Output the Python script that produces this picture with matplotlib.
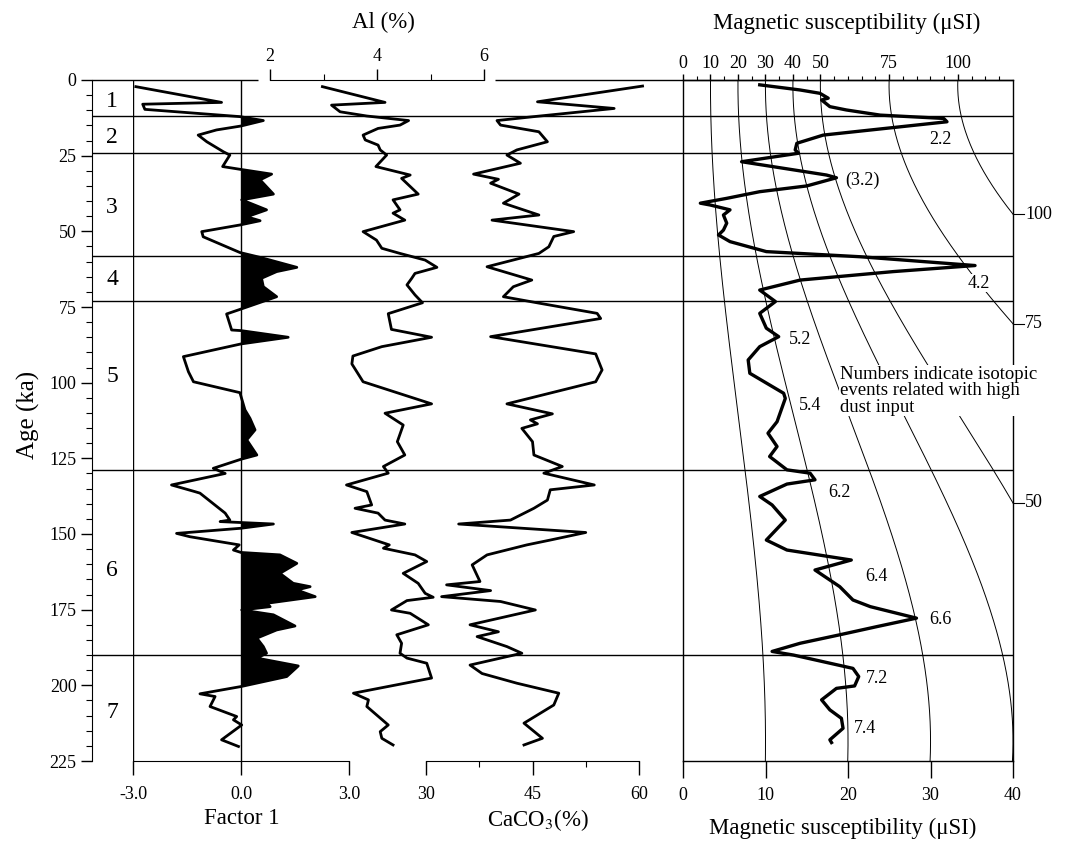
import numpy as np
import matplotlib
matplotlib.use('Agg')
import matplotlib.pyplot as plt

plt.rcParams['font.family'] = ['Liberation Serif', 'DejaVu Serif']
plt.rcParams['mathtext.fontset'] = 'stix'

# ---- data (age in ka) ----
fac_age = [2.2, 7.4, 8.0, 9.7, 12.1, 13.4, 15.2, 16.5, 18.2, 20.4,
           23.7, 24.8, 28.6, 29.5, 31.1, 33.0, 37.7, 39.6, 42.9, 45.2,
           46.5, 47.9, 50.1, 51.8, 57.0, 58.6, 61.9, 63.3, 65.5, 68.3,
           71.6, 75.8, 77.3, 82.6, 82.8, 85.0, 87.2, 91.4, 96.4, 99.7,
           103.3, 109.0, 111.8, 115.6, 118.9, 123.9, 125.3, 128.3, 130.0, 133.8,
           136.0, 136.5, 143.1, 145.4, 145.9, 146.7, 148.1, 149.8, 150.9, 153.6,
           155.3, 156.1, 156.9, 159.7, 163.0, 166.3, 167.4, 168.5, 170.7, 172.9,
           174.0, 175.1, 176.7, 180.4, 181.7, 184.4, 187.2, 189.4, 191.0, 193.6,
           197.1, 200.4, 202.8, 203.7, 207.0, 210.3, 211.4, 213.1, 218.0, 220.2]
fac_val = [-2.92, -0.54, -2.73, -2.67, -0.03, 0.62, 0.0, -0.68, -1.19, -0.95,
           -0.49, -0.31, -0.51, -0.03, 0.85, 0.53, 0.90, 0.02, 0.71, 0.16,
           0.53, -0.03, -1.09, -1.05, -0.03, 0.53, 1.55, 0.99, 0.57, 0.62,
           0.99, -0.03, -0.40, -0.26, 0.0, 1.31, 0.0, -1.60, -1.46, -1.32,
           -0.03, 0.11, 0.25, 0.39, 0.16, 0.44, 0.0, -0.77, -0.44, -1.93,
           -1.28, -1.14, -0.44, -0.31, -0.58, 0.90, 0.0, -1.79, -1.42, -0.05,
           -0.21, 0.0, 1.08, 1.55, 1.08, 1.45, 1.92, 1.55, 2.06, 0.71,
           0.81, 0.02, 0.90, 1.50, 0.99, 0.44, 0.62, 0.71, 0.44, 1.59,
           1.27, 0.0, -1.14, -0.72, -0.86, -0.12, -0.21, 0.02, -0.54, -0.07]

al_age = [2.2, 7.4, 8.3, 10.5, 11.9, 13.4, 14.9, 16.0, 18.2, 19.8,
          21.5, 23.1, 24.8, 28.6, 31.4, 32.5, 37.7, 39.6, 42.9, 44.0,
          46.3, 50.1, 52.9, 55.6, 57.3, 59.5, 61.9, 63.9, 65.5, 67.7,
          71.0, 73.6, 77.2, 82.4, 85.0, 88.1, 91.2, 93.8, 99.7, 107.0,
          110.1, 114.0, 119.5, 123.9, 127.7, 129.9, 133.8, 136.0, 140.4, 141.5,
          143.1, 145.4, 146.7, 149.5, 153.6, 154.7, 156.9, 159.1, 163.0, 166.3,
          169.6, 170.9, 172.0, 175.1, 176.2, 180.0, 183.3, 186.1, 189.4, 191.0,
          192.7, 197.6, 202.6, 204.8, 207.0, 213.1, 215.3, 217.5, 219.7]
al_val = [2.98, 4.15, 3.15, 3.31, 3.81, 4.59, 4.43, 4.02, 3.74, 3.78,
          4.02, 4.06, 4.18, 3.98, 4.62, 4.46, 4.77, 4.30, 4.43, 4.30,
          4.52, 3.74, 3.99, 4.09, 4.43, 4.90, 5.12, 4.71, 4.65, 4.56,
          4.71, 4.85, 4.21, 4.27, 5.02, 4.09, 3.55, 3.53, 3.74, 5.02,
          4.15, 4.49, 4.38, 4.52, 4.12, 4.21, 3.43, 3.81, 3.90, 3.59,
          4.02, 4.15, 4.52, 3.53, 4.23, 4.12, 4.71, 4.93, 4.49, 4.77,
          4.90, 5.05, 4.56, 4.27, 4.62, 4.96, 4.37, 4.46, 4.43, 4.56,
          4.93, 5.02, 3.56, 3.84, 3.81, 4.21, 4.06, 4.09, 4.30]

ca_age = [2.0, 7.2, 9.4, 12.1, 13.4, 14.9, 17.1, 20.4, 23.1, 24.8,
          27.5, 31.1, 32.8, 34.1, 37.7, 40.7, 44.6, 46.3, 50.1, 51.7,
          55.1, 57.3, 61.7, 66.1, 68.3, 71.6, 73.8, 77.1, 78.8, 84.8,
          90.5, 95.8, 99.7, 107.0, 110.3, 112.3, 113.6, 115.1, 119.5, 123.9,
          127.7, 129.9, 133.8, 135.4, 138.8, 141.5, 145.4, 146.7, 149.5, 152.0,
          153.6, 156.9, 160.2, 165.7, 166.8, 168.7, 170.7, 172.3, 175.1, 180.0,
          182.3, 183.9, 187.2, 189.4, 193.3, 196.1, 199.3, 202.6, 206.5, 212.5,
          217.5, 219.7]
ca_val = [60.5, 45.7, 56.5, 45.2, 40.0, 40.5, 45.9, 47.1, 42.8, 41.4,
          43.3, 36.7, 40.2, 39.1, 43.1, 40.9, 45.9, 39.3, 50.8, 48.0,
          47.3, 45.9, 38.6, 44.9, 42.3, 40.9, 46.1, 54.1, 54.6, 39.1,
          53.9, 54.8, 53.9, 41.4, 47.8, 44.7, 45.7, 43.5, 45.0, 45.2,
          49.2, 46.6, 53.7, 47.5, 47.1, 45.2, 41.9, 34.6, 52.5, 47.5,
          44.2, 38.6, 36.5, 37.6, 32.9, 39.1, 32.2, 40.5, 45.4, 36.2,
          40.2, 37.2, 41.4, 43.5, 36.2, 37.9, 42.8, 48.7, 48.0, 43.8,
          46.4, 43.8]

ms_age = [1.6, 3.3, 4.4, 6.0, 6.6, 8.8, 9.9, 11.6, 12.7, 13.8,
          18.2, 20.9, 23.1, 24.2, 27.0, 31.4, 32.3, 35.0, 36.9, 39.1,
          40.7, 41.3, 42.9, 44.6, 47.3, 49.6, 51.2, 53.4, 56.7, 58.4,
          61.3, 63.3, 66.1, 69.4, 73.2, 77.1, 82.0, 84.8, 88.1, 92.5,
          96.9, 103.5, 105.2, 112.9, 116.7, 121.1, 124.4, 128.8, 129.9, 132.1,
          133.5, 137.6, 140.4, 145.4, 152.0, 155.3, 158.6, 161.9, 164.1, 167.4,
          171.8, 174.0, 177.8, 180.6, 183.3, 186.1, 188.8, 190.0, 194.4, 197.1,
          200.2, 201.0, 204.8, 208.1, 210.9, 214.2, 218.0, 218.9]
ms_val = [9.3, 14.2, 16.6, 17.6, 16.8, 17.8, 19.8, 23.9, 31.6, 32.0,
          17.0, 13.8, 13.6, 14.0, 7.1, 17.4, 18.6, 15.0, 9.3, 5.3,
          2.1, 3.3, 5.7, 4.9, 5.3, 4.9, 4.3, 5.7, 10.1, 21.5,
          35.4, 25.5, 14.2, 9.3, 11.2, 9.3, 10.1, 11.6, 9.3, 7.9,
          8.1, 12.2, 12.4, 11.4, 10.3, 11.4, 10.5, 12.6, 15.4, 16.0,
          12.6, 9.3, 10.8, 12.4, 10.1, 12.6, 20.4, 16.0, 17.2, 19.0,
          20.6, 22.7, 28.3, 23.5, 19.0, 14.2, 10.8, 13.4, 20.6, 21.3,
          20.8, 18.6, 16.8, 17.8, 19.2, 19.4, 17.8, 18.0]

stage_bounds = [12, 24, 58, 73, 129, 190]
stage_names = ['1', '2', '3', '4', '5', '6', '7']
stage_name_age = [7, 19, 42, 66, 98, 162, 209]

event_names = ['2.2', '(3.2)', '4.2', '5.2', '5.4', '6.2', '6.4', '6.6', '7.2', '7.4']
event_x = [31.2, 21.7, 35.8, 14.2, 15.4, 19.0, 23.5, 31.2, 23.5, 22.1]
event_age = [19.8, 33.0, 67.1, 85.9, 107.4, 136.4, 164.2, 178.1, 197.9, 214.1]

# second (age dependent) susceptibility scale: px per unit along depth
warp_age = [0, 13, 44.5, 57, 79, 92.5, 130, 138.6, 175, 190, 225]
warp_px = [2.75, 2.8, 3.3, 3.6, 4.4, 4.77, 6.3, 6.6, 7.6, 8.0, 8.25]
warp_values = [10, 20, 30, 40, 50, 75, 100]
top_labels = [0, 10, 20, 30, 40, 50, 75, 100]

W, H = 1068, 843
fig = plt.figure(figsize=(W / 100, H / 100), dpi=100)


def axes_px(x0, x1, y0=80, y1=761):
    a = fig.add_axes([x0 / W, 1 - y1 / H, (x1 - x0) / W, (y1 - y0) / H])
    a.set_ylim(225, 0)
    a.patch.set_visible(False)
    for s in a.spines.values():
        s.set_visible(False)
    a.set_yticks([])
    return a


TICK = dict(labelsize=13, width=1, color='black')
LW = 2.0

# age axis + stage boundaries
ax = axes_px(92, 1013)
ax.set_xlim(0, 1)
ax.spines['left'].set_visible(True)
ax.set_xticks([])
ax.set_yticks(range(0, 226, 25))
ax.set_yticks(range(0, 226, 5), minor=True)
ax.tick_params(axis='y', which='major', length=8, pad=3, **TICK)
ax.tick_params(axis='y', which='minor', length=4, width=0.8)
for b in stage_bounds:
    ax.axhline(b, color='black', lw=1.0)
ax.hlines(0, 0, (258 - 92) / 921, color='black', lw=1.0, clip_on=False)
ax.hlines(0, (495 - 92) / 921, 1, color='black', lw=1.0, clip_on=False)
for name, a in zip(stage_names, stage_name_age):
    ax.text((112 - 92) / 921, a, name, fontsize=17, ha='center', va='center')

# Factor 1
axf = axes_px(133, 349)
axf.set_xlim(-3, 3)
axf.spines['bottom'].set_visible(True)
axf.set_xticks([-3, 0, 3], ['-3.0', '0.0', '3.0'])
axf.tick_params(axis='x', length=10, pad=8, **TICK)
axf.axvline(-3, color='black', lw=1.0)
axf.axvline(0, color='black', lw=1.0)
fa = np.array(fac_age)
fv = np.array(fac_val)
axf.fill_betweenx(fa, 0, fv, where=fv > 0, interpolate=True, color='black', lw=0)
axf.plot(fv, fa, color='black', lw=LW, clip_on=False)

# Al (%)
axa = axes_px(270, 484)
axa.set_xlim(2, 6)
axa.spines['top'].set_visible(True)
axa.xaxis.tick_top()
axa.set_xticks([2, 4, 6])
axa.set_xticks([3, 5], minor=True)
axa.tick_params(axis='x', which='major', length=8, pad=3, **TICK)
axa.tick_params(axis='x', which='minor', length=4, width=0.8)
axa.plot(al_val, al_age, color='black', lw=LW, clip_on=False)

# CaCO3 (%)
axc = axes_px(426, 639)
axc.set_xlim(30, 60)
axc.spines['bottom'].set_visible(True)
axc.set_xticks([30, 45, 60])
axc.set_xticks([37.5, 52.5], minor=True)
axc.tick_params(axis='x', which='major', length=10, pad=8, **TICK)
axc.tick_params(axis='x', which='minor', length=4, width=0.8)
axc.plot(ca_val, ca_age, color='black', lw=LW, clip_on=False)

# Magnetic susceptibility
axm = axes_px(683, 1013)
axm.set_xlim(0, 40)
for s in axm.spines.values():
    s.set_visible(True)
    s.set_linewidth(1.0)
axm.set_xticks([0, 10, 20, 30, 40])
axm.tick_params(axis='x', length=12, pad=7, **TICK)

coef = np.polyfit(warp_age, warp_px, 3)
tt = np.linspace(0, 225, 400)
scale = np.polyval(coef, tt) / 8.25
for v in warp_values:
    xb = v * scale
    axm.plot(xb, tt, color='black', lw=0.7, zorder=2)
    if v > 40:
        t_end = np.interp(40, xb, tt)
        axm.plot([40, 41.3], [t_end, t_end], color='black', lw=0.8, clip_on=False)
        axm.text(41.5, t_end, str(v), fontsize=13, ha='left', va='center')

axt = axm.twiny()
axt.set_xlim(0, 40)
for s in axt.spines.values():
    s.set_visible(False)
s0 = np.polyval(coef, 0) / 8.25
axt.set_xticks([v * s0 for v in top_labels], [str(v) for v in top_labels])
axt.set_xticks([v * s0 for v in range(5, 120, 5) if v not in top_labels], minor=True)
axt.tick_params(axis='x', which='major', length=4, pad=2, **TICK)
axt.tick_params(axis='x', which='minor', length=3, width=0.8)

axm.plot(ms_val, ms_age, color='black', lw=2.4, zorder=5)
for name, x, a in zip(event_names, event_x, event_age):
    axm.text(x, a, name, fontsize=13, ha='center', va='center', zorder=3,
             bbox=dict(facecolor='white', edgecolor='none', pad=0.5))
axm.text(19.0, 94.5, 'Numbers indicate isotopic\nevents related with high\ndust input',
         fontsize=13.5, ha='left', va='top', linespacing=0.95, zorder=3,
         bbox=dict(facecolor='white', edgecolor='none', pad=0.5))

# titles
TIT = dict(fontsize=16.5, ha='center', va='center')
fig.text(383 / W, 1 - 22 / H, 'Al (%)', **TIT)
fig.text(847 / W, 1 - 23 / H, 'Magnetic susceptibility (\u03bcSI)', **TIT)
fig.text(843 / W, 1 - 828 / H, 'Magnetic susceptibility (\u03bcSI)', **TIT)
fig.text(242 / W, 1 - 818 / H, 'Factor 1', **TIT)
fig.text(538 / W, 1 - 820 / H, 'CaCO$_3$(%)', **TIT)
fig.text(28 / W, 1 - 415 / H, 'Age (ka)', rotation=90, fontsize=18, ha='center', va='center')

fig.savefig('out.png', dpi=100)
